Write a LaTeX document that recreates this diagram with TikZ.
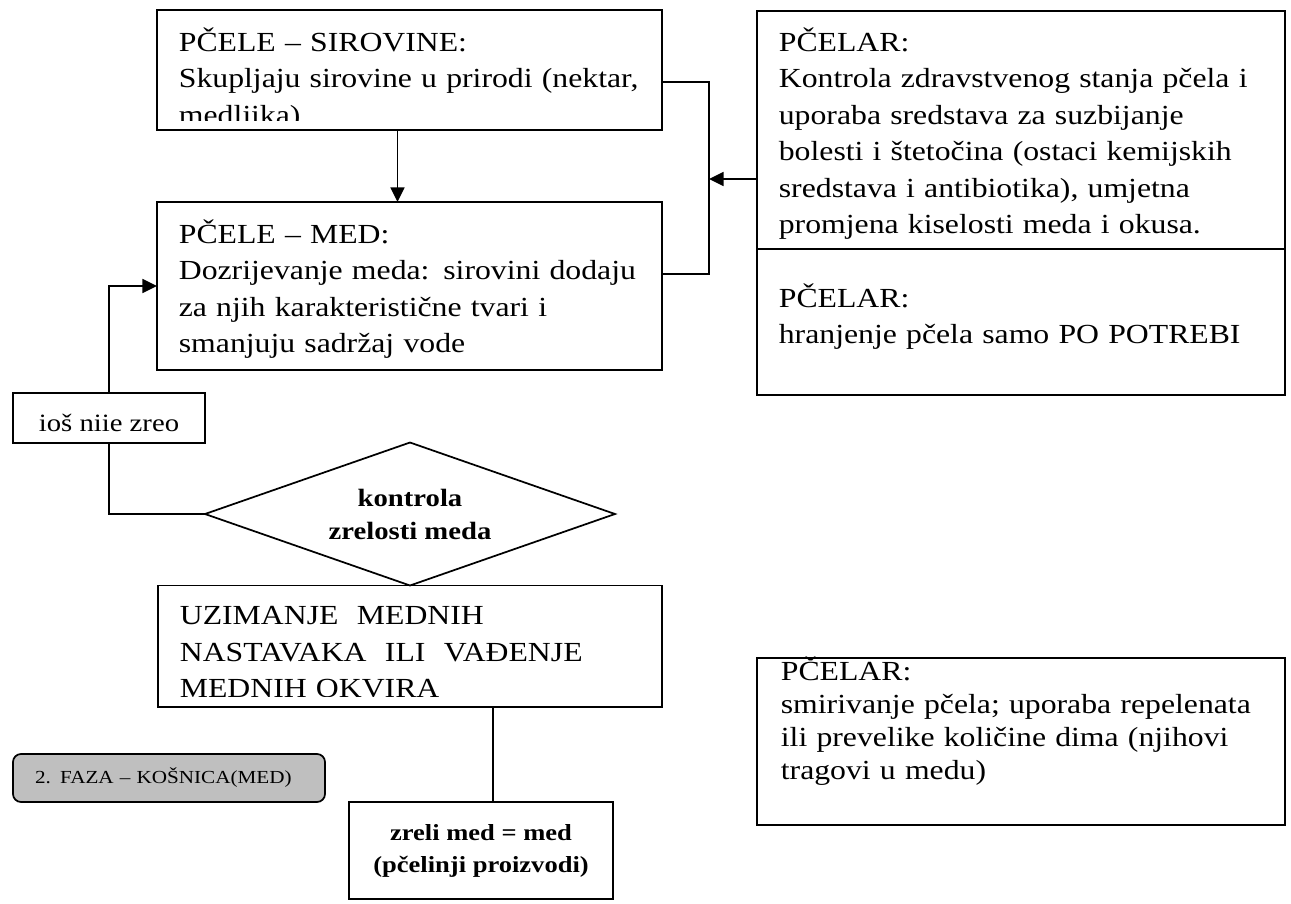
\documentclass[tikz,border=0pt]{standalone}
\usepackage{fontspec}
\setmainfont{Liberation Serif}[FakeStretch=1.15]
\usepackage{tikz}
\usetikzlibrary{shapes,arrows.meta,positioning,calc}

\begin{document}
\begin{tikzpicture}[
      x = 0.75pt,y = -0.75pt,line width = 1.3pt,
      box/.style = {rectangle,draw,anchor = north west,inner sep = 0,outer sep = 0},
      txt/.style = {anchor = base west,inner sep = 0,text width = 400pt,align = left,font = \fontsize{20.7}{27.4}\selectfont},
      decision/.style = {diamond,draw,aspect = 2.9,inner sep = 0,outer sep = 0,text centered},
      phase/.style = {rectangle,draw,rounded corners = 6pt,fill = black!25,outer sep = 0},
      arrow/.style = {-{Triangle[length = 11pt,width = 10.5pt]}}
      ]
      \useasboundingbox (0,0) rectangle (1291,903);
      % pcele
      \node (sirovine)[box,minimum width = 378.75pt,minimum height = 90pt] at (157,10) {};
      \node (med)[box,minimum width = 378.75pt,minimum height = 126pt,below = 54pt of sirovine] {};
      \begin{scope}
        \clip (sirovine.north west) rectangle ([yshift = 7.5pt]sirovine.south east);
        \node (sirovinetxt)[txt] at ([shift = {(21,41)}]sirovine.north west) {PČELE – SIROVINE:\\Skupljaju sirovine u prirodi (nektar,\\medljika)};
      \end{scope}
      \node (medtxt)[txt] at ([shift = {(21,41)}]med.north west) {PČELE – MED:\\Dozrijevanje meda: sirovini dodaju\\za njih karakteristične tvari i\\smanjuju sadržaj vode};
      % pcelar
      \node (pcelar)[box,minimum width = 396pt,minimum height = 178.5pt] at (757,11) {};
      \node (hranjenje)[box,minimum width = 396pt,minimum height = 109.5pt,below = 0pt of pcelar] {};
      \node (pcelartxt)[txt] at ([shift = {(21,40)}]pcelar.north west) {PČELAR:\\Kontrola zdravstvenog stanja pčela i\\uporaba sredstava za suzbijanje\\bolesti i štetočina (ostaci kemijskih\\sredstava i antibiotika), umjetna\\promjena kiselosti meda i okusa.};
      \node (hranjenjetxt)[txt] at ([shift = {(21,58)}]hranjenje.north west) {PČELAR:\\hranjenje pčela samo PO POTREBI};
      \node (dim)[box,minimum width = 396pt,minimum height = 125.25pt] at (757,658) {};
      \node (dimtxt)[txt,font = \fontsize{20.7}{24.75}\selectfont] at ([shift = {(23,22)}]dim.north west) {PČELAR:\\smirivanje pčela; uporaba repelenata\\ili prevelike količine dima (njihovi\\tragovi u medu)};
      % kontrola
      \node (ios)[box,minimum width = 144pt,minimum height = 37.5pt,text height = 20.5pt,text depth = 0pt,font = \fontsize{18.7}{20}\selectfont] at (13,393) {ioš niie zreo};
      \node (kontrola)[decision,minimum width = 307.5pt,minimum height = 107.25pt,align = center,font = \bfseries\fontsize{18.7}{24.75}\selectfont] at (410,514) {kontrola\\zrelosti meda};
      \node (uzimanje)[box,minimum width = 378pt,minimum height = 91pt,below = 0pt of kontrola] {};
      \begin{scope}
        \clip (uzimanje.north west) rectangle ([yshift = 7.5pt]uzimanje.south east);
        \node (uzimanjetxt)[txt] at ([shift = {(21,39)}]uzimanje.north west) {UZIMANJE\ \ MEDNIH\\NASTAVAKA\ \ ILI\ \ VAĐENJE\\MEDNIH OKVIRA};
      \end{scope}
      \node (zreli)[box,minimum width = 198pt,minimum height = 72.75pt,align = center,font = \bfseries\fontsize{17.3}{24}\selectfont] at (349,802) {zreli med = med\\(pčelinji proizvodi)};
      \node (faza)[phase,anchor = north west,minimum width = 234pt,minimum height = 36pt,inner xsep = 16.5pt,inner ysep = 0,text width = 201pt,align = left,font = \fontsize{13.8}{16}\selectfont] at (13,754) {2. FAZA – KOŠNICA(MED)};

      \draw[arrow] ([xshift = -9pt]sirovine.south) -- ([xshift = -9pt]med.north);
      \draw ([yshift = -9pt]sirovine.east) -- ++(47,0) |- ([yshift = 9pt]med.east);
      \draw[arrow] ([yshift = -36.75pt]pcelar.west) -- ++(-48,0);
      \draw[arrow] (ios.north) |- (med.west);
      \draw (ios.south) |- (kontrola.west);
      \draw ([xshift = 9pt]zreli.north) -- ([xshift = 9pt]zreli.north |- uzimanje.south);
    \end{tikzpicture}
\end{document}
